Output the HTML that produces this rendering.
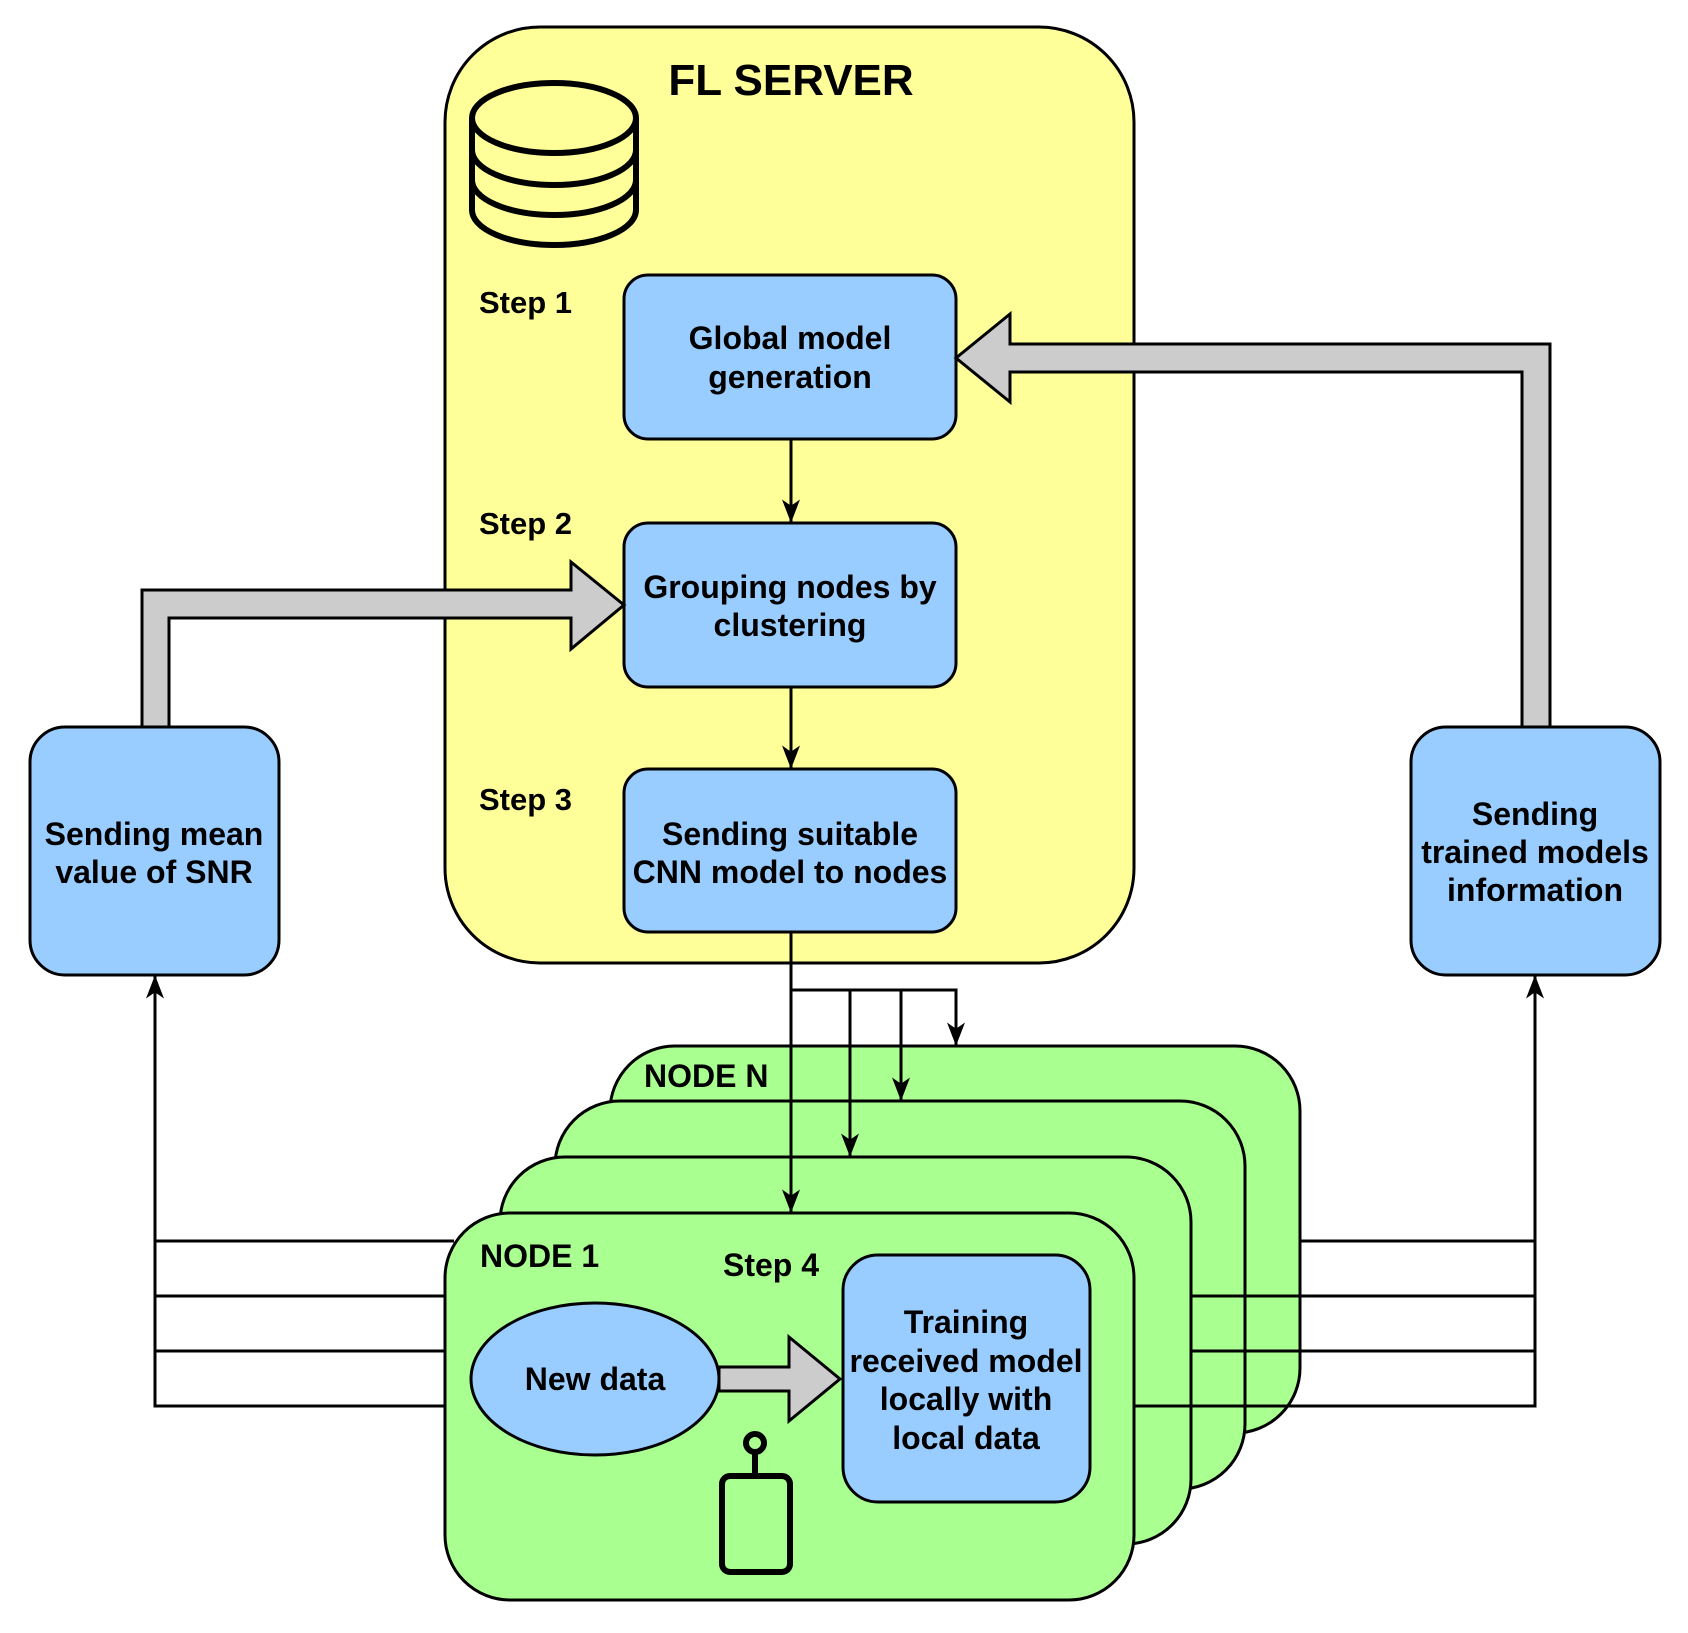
<!DOCTYPE html>
<html><head><style>
html,body{margin:0;padding:0;background:#fff;}
svg{display:block;}
text{font-family:"Liberation Sans",Arial,sans-serif;font-weight:bold;fill:#000;}
</style></head><body>
<svg width="1688" height="1633" viewBox="0 0 1688 1633" xmlns="http://www.w3.org/2000/svg">
<defs>
<marker id="ah" markerWidth="24" markerHeight="18" refX="25" refY="10" orient="auto" markerUnits="userSpaceOnUse" viewBox="0 0 26 20">
<path d="M0,0 L26,10 L0,20 L7,10 Z" fill="#000"/>
</marker>
</defs>
<rect x="445" y="27" width="689" height="936" rx="95" fill="#ffff99" stroke="#000" stroke-width="3"/>
<text x="791" y="95" font-size="44" text-anchor="middle">FL SERVER</text>
<g fill="none" stroke="#000" stroke-width="6">
<path d="M472,118 L472,210 A82,35 0 0 0 636,210 L636,118"/>
<ellipse cx="554" cy="118" rx="82" ry="35"/>
<path d="M472,150 A82,35 0 0 0 636,150"/>
<path d="M472,180 A82,35 0 0 0 636,180"/>
</g>
<g font-size="31">
<text x="479" y="313">Step 1</text>
<text x="479" y="534">Step 2</text>
<text x="479" y="810">Step 3</text>
</g>
<g fill="#99ccff" stroke="#000" stroke-width="3">
<rect x="624" y="275" width="332" height="164" rx="24"/>
<rect x="624" y="523" width="332" height="164" rx="24"/>
<rect x="624" y="769" width="332" height="163" rx="24"/>
<rect x="30" y="727" width="249" height="248" rx="35"/>
<rect x="1411" y="727" width="249" height="248" rx="35"/>
</g>
<g font-size="32" text-anchor="middle">
<text x="790" y="349">Global model</text>
<text x="790" y="388">generation</text>
<text x="790" y="598">Grouping nodes by</text>
<text x="790" y="636">clustering</text>
<text x="790" y="845">Sending suitable</text>
<text x="790" y="883">CNN model to nodes</text>
<text x="154" y="845">Sending mean</text>
<text x="154" y="883">value of SNR</text>
<text x="1535" y="825">Sending</text>
<text x="1535" y="863">trained models</text>
<text x="1535" y="901">information</text>
</g>
<path d="M142,727 L142,590 L571,590 L571,562 L624,605 L571,649 L571,618 L169,618 L169,727 Z" fill="#cccccc" stroke="#000" stroke-width="3"/>
<path d="M1550,727 L1550,344 L1010,344 L1010,314 L956,358 L1010,402 L1010,372 L1522,372 L1522,727 Z" fill="#cccccc" stroke="#000" stroke-width="3"/>
<g stroke="#000" stroke-width="3" fill="none">
<line x1="791" y1="439" x2="791" y2="522" marker-end="url(#ah)"/>
<line x1="791" y1="687" x2="791" y2="768" marker-end="url(#ah)"/>
<polyline points="155,976 155,1406 460,1406"/>
<polyline points="1535,976 1535,1406 1134,1406"/>
</g>
<line x1="155" y1="1010" x2="155" y2="976" stroke="#000" stroke-width="3" marker-end="url(#ah)"/>
<line x1="1535" y1="1010" x2="1535" y2="976" stroke="#000" stroke-width="3" marker-end="url(#ah)"/>
<g fill="#aaff91" stroke="#000" stroke-width="3">
<rect x="610" y="1046" width="690" height="387" rx="65"/>
<rect x="555" y="1101" width="690" height="388" rx="65"/>
<line x1="1245" y1="1351" x2="1300" y2="1351"/>
<rect x="500" y="1157" width="691" height="387" rx="65"/>
<line x1="1191" y1="1296" x2="1245" y2="1296"/>
<line x1="1191" y1="1351" x2="1245" y2="1351"/>
<line x1="1191" y1="1406" x2="1245" y2="1406"/>
<rect x="445" y="1213" width="689" height="387" rx="65"/>
</g>
<g stroke="#000" stroke-width="3" fill="none">
<line x1="155" y1="1241" x2="454" y2="1241"/>
<line x1="155" y1="1296" x2="446" y2="1296"/>
<line x1="155" y1="1351" x2="446" y2="1351"/>
<line x1="1300" y1="1241" x2="1535" y2="1241"/>
<line x1="1245" y1="1296" x2="1535" y2="1296"/>
<line x1="1191" y1="1351" x2="1535" y2="1351"/>
<line x1="1134" y1="1406" x2="1535" y2="1406"/>
</g>
<g stroke="#000" stroke-width="3" fill="none">
<line x1="791" y1="932" x2="791" y2="1212" marker-end="url(#ah)"/>
<polyline points="791,990 956,990 956,1045" marker-end="url(#ah)"/>
<polyline points="850,990 850,1156" marker-end="url(#ah)"/>
<polyline points="901,990 901,1100" marker-end="url(#ah)"/>
</g>
<text x="644" y="1087" font-size="32">NODE N</text>
<text x="480" y="1267" font-size="32">NODE 1</text>
<text x="723" y="1276" font-size="32">Step 4</text>
<ellipse cx="595" cy="1379" rx="124" ry="76" fill="#99ccff" stroke="#000" stroke-width="3"/>
<text x="595" y="1390" font-size="32" text-anchor="middle">New data</text>
<path d="M719,1367 L789,1367 L789,1337 L840,1379 L789,1421 L789,1391 L719,1391 Z" fill="#cccccc" stroke="#000" stroke-width="3"/>
<rect x="843" y="1255" width="247" height="247" rx="35" fill="#99ccff" stroke="#000" stroke-width="3"/>
<g font-size="32" text-anchor="middle">
<text x="966" y="1333">Training</text>
<text x="966" y="1372">received model</text>
<text x="966" y="1410">locally with</text>
<text x="966" y="1449">local data</text>
</g>
<g fill="none" stroke="#000" stroke-width="6">
<circle cx="755" cy="1443" r="9"/>
<line x1="755" y1="1452" x2="755" y2="1475"/>
<rect x="722" y="1476" width="68" height="96" rx="8"/>
</g>
</svg>
</body></html>
